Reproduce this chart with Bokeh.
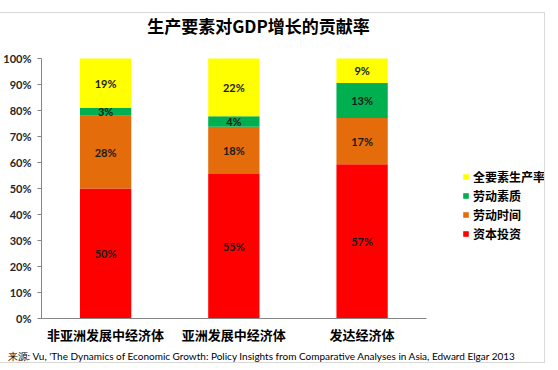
from bokeh.plotting import figure
from bokeh.models import (ColumnDataSource, Range1d, FixedTicker, InlineStyleSheet,
                          NumeralTickFormatter, Legend, LegendItem, Title, Label)
from bokeh.core.properties import value
from bokeh.embed import file_html
from bokeh.resources import INLINE

# ---- data ----
categories = ["非亚洲发展中经济体", "亚洲发展中经济体", "发达经济体"]
capital = [50, 55, 57]          # 资本投资
labor_hours = [28, 18, 17]      # 劳动时间
labor_quality = [3, 4, 13]      # 劳动素质
tfp = [19, 22, 9]               # 全要素生产率
series_names = ["资本投资", "劳动时间", "劳动素质", "全要素生产率"]
series_values = [capital, labor_hours, labor_quality, tfp]
colors = ["#FF0000", "#E46C0A", "#00B050", "#FFFF00"]
y_ticks = [0, 0.1, 0.2, 0.3, 0.4, 0.5, 0.6, 0.7, 0.8, 0.9, 1.0]
title_text = "生产要素对GDP增长的贡献率"
source_text = "来源: Vu, 'The Dynamics of Economic Growth: Policy Insights from Comparative Analyses in Asia, Edward Elgar 2013"

CJK = "Noto Sans CJK SC"
LAT = "Lato"

# layout constants (pixels)
W, H = 550, 370
LEFT, BOTTOM = 34, 52
UNIT_X, UNIT_Y = 130, 260           # pixels per category / per 100 %
frame_w = W - LEFT
frame_h = H - BOTTOM

# positions of categories on a numeric axis (centre of each slot)
xpos = [i + 0.5 for i in range(len(categories))]

totals = [sum(vals) for vals in zip(*series_values)]
data = {"x": xpos}
for name, vals in zip(series_names, series_values):
    data[name] = [v / t for v, t in zip(vals, totals)]
source = ColumnDataSource(data)

lab_x, lab_y, lab_t = [], [], []
for i in range(len(categories)):
    base = 0.0
    for name, vals in zip(series_names, series_values):
        share = vals[i] / totals[i]
        lab_x.append(xpos[i])
        lab_y.append(base + share / 2)
        lab_t.append(f"{vals[i]}%")
        base += share
lab_src = ColumnDataSource(dict(x=lab_x, y=lab_y, t=lab_t))

p = figure(width=W, height=H, x_range=Range1d(0, frame_w / UNIT_X),
           y_range=Range1d(0, frame_h / UNIT_Y), output_backend="svg",
           toolbar_location=None, min_border_left=LEFT, min_border_right=0,
           min_border_top=0, min_border_bottom=BOTTOM)
p.title.visible = False
p.outline_line_color = None
p.background_fill_color = "white"
p.border_fill_color = "white"
p.xgrid.visible = False
p.ygrid.visible = False

# thin light-grey chart border, drawn as an overlay on the host element
p.stylesheets = [InlineStyleSheet(css=(
    ":host{position:relative;}"
    ":host::after{content:'';position:absolute;left:-5px;top:12px;right:5px;"
    "bottom:7px;border:1px solid #d9d9d9;pointer-events:none;}"))]

renderers = p.vbar_stack(series_names, x="x", width=0.4, color=colors,
                         line_color=None, source=source)

p.text(x="x", y="y", text="t", source=lab_src, text_align="center",
       text_baseline="middle", text_font=value(LAT), text_font_style="bold",
       text_font_size="11px", text_color="#1a1a1a")

# axes
yax = p.yaxis[0]
yax.ticker = FixedTicker(ticks=y_ticks)
yax.formatter = NumeralTickFormatter(format="0%")
yax.bounds = (0, 1)
yax.axis_line_color = "#868686"
yax.major_tick_line_color = "#868686"
yax.major_tick_out = 4
yax.major_tick_in = 0
yax.minor_tick_line_color = None
yax.major_label_text_font = LAT
yax.major_label_text_font_style = "bold"
yax.major_label_text_font_size = "11px"
yax.major_label_text_color = "#262626"
yax.major_label_standoff = 6

xax = p.xaxis[0]
xax.ticker = FixedTicker(ticks=xpos)
xax.major_label_overrides = {x: c for x, c in zip(xpos, categories)}
xax.bounds = (0, len(categories))
xax.axis_line_color = "#868686"
xax.major_tick_line_color = None
xax.minor_tick_line_color = None
xax.major_label_text_font = CJK
xax.major_label_text_font_style = "bold"
xax.major_label_text_font_size = "13px"
xax.major_label_text_color = "#000000"
xax.major_label_standoff = 0

# legend (reverse order like the reference)
items = [LegendItem(label=n, renderers=[r]) for n, r in zip(series_names, renderers)][::-1]
legend = Legend(items=items, location=(421, 75), glyph_width=7, glyph_height=7,
                label_height=19, spacing=0, padding=0, margin=0, label_standoff=4,
                label_text_font=CJK, label_text_font_style="bold",
                label_text_font_size="12px", label_text_color="#000000",
                border_line_color=None, background_fill_alpha=0)
p.add_layout(legend, "center")

# chart title (inside the frame area, above the bars)
p.add_layout(Label(x=217, y=frame_h - 25, x_units="screen", y_units="screen",
                   text=title_text, text_align="center", text_baseline="middle",
                   text_font=CJK, text_font_style="bold", text_font_size="17px",
                   text_color="#000000"))

# source line below the axis
p.add_layout(Title(text=source_text, align="left", offset=-LEFT, standoff=4,
                   vertical_align="middle", text_font=LAT,
                   text_font_style="normal", text_font_size="10px",
                   text_color="#000000"), "below")

open("out.html", "w").write(file_html(p, INLINE))
